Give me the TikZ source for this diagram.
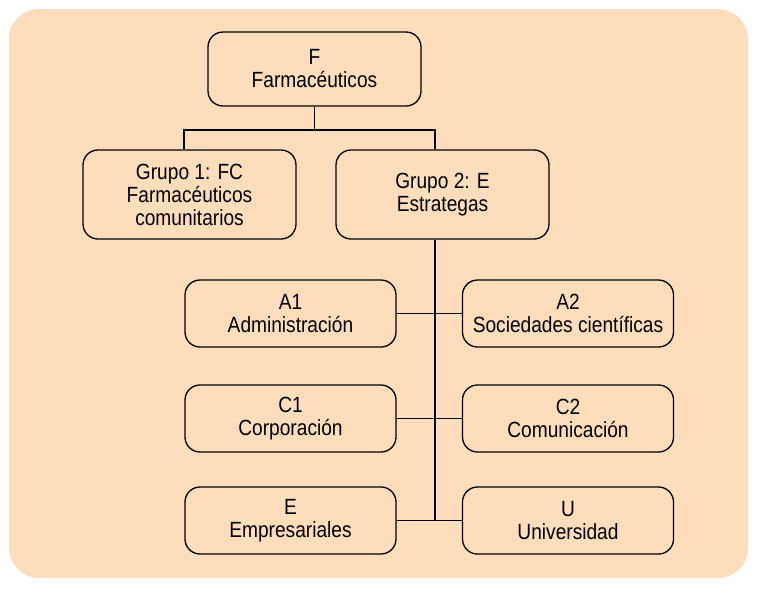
\documentclass[tikz,border=0pt]{standalone}
\usepackage{fontspec}
\setmainfont[FakeStretch=0.87]{Liberation Sans}
\definecolor{peach}{RGB}{253,221,188}
\tikzset{
  box/.style={draw=black, line width=1.3pt, rounded corners=15pt, fill=peach,
    align=center, inner sep=0pt, font=\fontsize{22}{23}\selectfont},
  wide/.style={box, minimum width=213pt},
  sub/.style={box, minimum width=211pt, minimum height=67pt},
  conn/.style={draw=black, line width=1.3pt}
}
\begin{document}
\begin{tikzpicture}[x=1pt,y=-1pt]
\useasboundingbox (0,0) rectangle (757,592);
\fill[peach, rounded corners=30pt] (9,9) rectangle (748,578);
\node[wide, minimum height=74pt] (F) at (314.5,69) {F\\Farmacéuticos};
\node[wide, minimum height=89pt] (G1) at (189.5,194.5) {Grupo 1: FC\\Farmacéuticos\\comunitarios};
\node[wide, minimum height=89pt] (G2) at (442.5,194.5) {Grupo 2: E\\Estrategas};
\node[sub] (A1) at (290.5,313.5) {A1\\Administración};
\node[sub] (A2) at (568,313.5) {A2\\Sociedades científicas};
\node[sub] (C1) at (290.5,418.5) {C1\\Corporación};
\node[sub] (C2) at (568,418.5) {C2\\Comunicación};
\node[sub] (E) at (290.5,520.5) {E\\Empresariales};
\node[sub] (U) at (568,520.5) {U\\Universidad};
\coordinate (jL) at (184,130);
\coordinate (jR) at (435,130);
\coordinate (t) at (435,521);
\draw[conn] (F.south) -- (F.south |- jL);
\draw[conn] (jL |- G1.north) -- (jL) -- (jR) -- (jR |- G2.north);
\draw[conn] (jR |- G2.south) -- (t);
\draw[conn] (A1.east) -- (A2.west);
\draw[conn] (C1.east) -- (C2.west);
\draw[conn] (E.east) -- (U.west);
\end{tikzpicture}
\end{document}
